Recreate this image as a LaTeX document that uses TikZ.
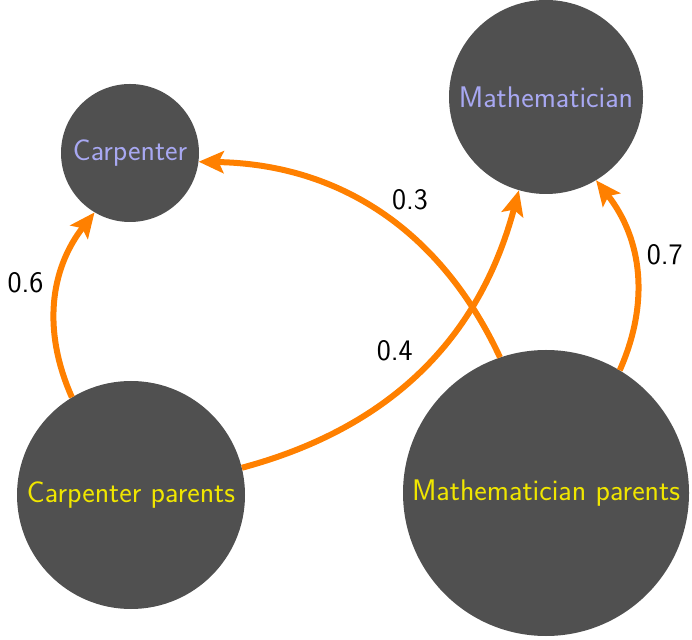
\documentclass[tikz,border=0pt]{standalone}
\usepackage{fontspec}
\usepackage{tikz}
\usetikzlibrary{arrows.meta, positioning}
\definecolor{node-gray}{RGB}{80,80,80}
\definecolor{child-lavender}{RGB}{168,168,242}
\definecolor{parent-yellow}{RGB}{240,230,0}
\definecolor{edge-orange}{RGB}{255,128,0}
\newcommand{\bigsans}{\sffamily\fontsize{29.8}{35}\selectfont}

\begin{document}
\begin{tikzpicture}[
    x=1pt, y=1pt,
    state/.style={circle, fill=node-gray, inner sep=0pt, font=\bigsans},
    child/.style={state, text=child-lavender},
    parent/.style={state, text=parent-yellow},
    arrow/.style={-{Stealth[length=25pt, width=22pt, inset=5pt]}, line width=6pt, draw=edge-orange},
    prob/.style={font=\bigsans, text=black}
]
\useasboundingbox (0,0) rectangle (692,639);

\node[child, minimum size=138pt] (carpenter) at (130,486) {Carpenter};
\node[child, minimum size=194pt] (mathematician) at (546,542) {Mathematician};
\node[parent, minimum size=228pt] (carpparents) at (131,144) {Carpenter parents};
\node[parent, minimum size=286pt] (mathparents) at (546,146) {Mathematician parents};

\draw[arrow] (carpparents) to[bend left=31] node[prob, pos=0.6, left=9pt] {0.6} (carpenter);
\draw[arrow] (mathparents) to[bend right=32] node[prob, pos=0.48, above right=0pt] {0.3} (carpenter);
\draw[arrow] (carpparents) to[bend right=30] node[prob, pos=0.5, above left=3pt] {0.4} (mathematician);
\draw[arrow] (mathparents) to[bend right=31] node[prob, pos=0.59, right=7pt] {0.7} (mathematician);

\end{tikzpicture}
\end{document}
